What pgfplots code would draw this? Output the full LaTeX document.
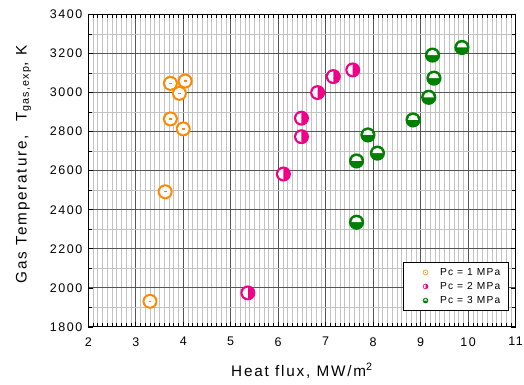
\documentclass[border=0pt]{standalone}
\usepackage{fontspec}
\setmainfont{Liberation Sans}[LetterSpace=12]
\usepackage{pgfplots}
\pgfplotsset{compat=1.18}

\definecolor{corange}{RGB}{255,136,0}
\definecolor{cpink}{RGB}{240,0,135}
\definecolor{cgreen}{RGB}{0,128,0}
\definecolor{majgrid}{RGB}{85,85,85}
\definecolor{mingrid}{RGB}{195,195,195}

\pgfdeclareplotmark{omark}{%
  \pgfmathsetmacro\rin{0.74*\pgfplotmarksize}%
  \pgfsetfillcolor{corange}%
  \pgfpathcircle{\pgfpointorigin}{\pgfplotmarksize}\pgfusepathqfill
  \pgfsetfillcolor{white}%
  \pgfpathcircle{\pgfpointorigin}{\rin pt}\pgfusepathqfill
  \pgfsetfillcolor{corange}%
  \pgfpathrectangle{\pgfpoint{-0.19*\pgfplotmarksize}{-0.09*\pgfplotmarksize}}{\pgfpoint{0.38*\pgfplotmarksize}{0.18*\pgfplotmarksize}}\pgfusepathqfill
}
\pgfdeclareplotmark{pmark}{%
  \pgfmathsetmacro\rin{0.72*\pgfplotmarksize}%
  \pgfsetfillcolor{cpink}%
  \pgfpathcircle{\pgfpointorigin}{\pgfplotmarksize}\pgfusepathqfill
  \pgfsetfillcolor{white}%
  \pgfpathmoveto{\pgfpoint{0pt}{\rin pt}}%
  \pgfpatharc{90}{270}{\rin pt}%
  \pgfpathclose\pgfusepathqfill
}
\pgfdeclareplotmark{gmark}{%
  \pgfmathsetmacro\rin{0.68*\pgfplotmarksize}%
  \pgfsetfillcolor{cgreen}%
  \pgfpathcircle{\pgfpointorigin}{\pgfplotmarksize}\pgfusepathqfill
  \pgfsetfillcolor{white}%
  \pgfpathmoveto{\pgfpoint{\rin pt}{0pt}}%
  \pgfpatharc{0}{180}{\rin pt}%
  \pgfpathclose\pgfusepathqfill
}

\begin{document}
\begin{tikzpicture}
\path[use as bounding box] (-88.3pt,-57.5pt) rectangle (435.9pt,327pt);
\begin{axis}[
  scale only axis,
  width=427.5pt, height=312.5pt,
  at={(0pt,0pt)}, anchor=south west,
  xmin=2, xmax=11, ymin=1800, ymax=3400,
  xtick={2,3,...,11},
  ytick={1800,2000,...,3400},
  minor x tick num=9,
  minor y tick num=1,
  grid=both,
  major grid style={draw=majgrid, line width=0.8pt},
  minor grid style={draw=mingrid, line width=0.7pt},
  axis line style={black, line width=0.9pt},
  major tick length=5pt, minor tick length=3.5pt,
  tick style={black, line width=0.6pt},
  tick align=inside,
  /pgf/number format/assume math mode=true,
  /pgf/number format/1000 sep={},
  ticklabel style={font=\fontsize{12.5}{14}\selectfont},
  xticklabel style={yshift=-7pt},
  yticklabel style={xshift=-2.5pt},
  xlabel={Heat flux, MW/m\textsuperscript{2}},
  ylabel={Gas Temperature,\hspace{0.9em}T\textsubscript{gas,exp}, K},
  label style={font=\fontsize{15.3}{17}\selectfont},
  xlabel style={at={(rel axis cs:0.5,0)}, anchor=base, yshift=-49.2pt},
  ylabel style={at={([xshift=-61.6pt]rel axis cs:0,0.52)}, anchor=base},
  legend style={at={(rel axis cs:0.984,0.05)}, anchor=south east,
    font=\fontsize{10.2}{12}\selectfont, draw=black, line width=0.8pt,
    fill=white, row sep=1.5pt, inner xsep=6pt, inner ysep=4pt},
  legend cell align=left,
  legend image code/.code={\path[draw=none, fill=none] (0cm,0cm) -- (1.0cm,0cm); \draw[only marks] plot coordinates {(0.56cm,0cm)};},
]
\addplot[only marks, mark=omark, mark size=7.5pt, legend image post style={mark size=2.8pt}]
  coordinates {(3.30,1931) (3.62,2492) (3.73,2865) (4.00,2814) (3.92,2996) (3.73,3047) (4.04,3059)};
\addlegendentry{Pc = 1 MPa}
\addplot[only marks, mark=pmark, mark size=7.5pt, legend image post style={mark size=2.8pt}]
  coordinates {(5.36,1974) (6.11,2583) (6.49,2774) (6.49,2869) (6.83,3000) (7.16,3082) (7.57,3116)};
\addlegendentry{Pc = 2 MPa}
\addplot[only marks, mark=gmark, mark size=7.6pt, legend image post style={mark size=2.8pt}]
  coordinates {(7.65,2336) (7.65,2650) (8.09,2690) (7.89,2783) (8.84,2860) (9.17,2976) (9.28,3074) (9.25,3192) (9.87,3231)};
\addlegendentry{Pc = 3 MPa}
\end{axis}
\end{tikzpicture}
\end{document}
